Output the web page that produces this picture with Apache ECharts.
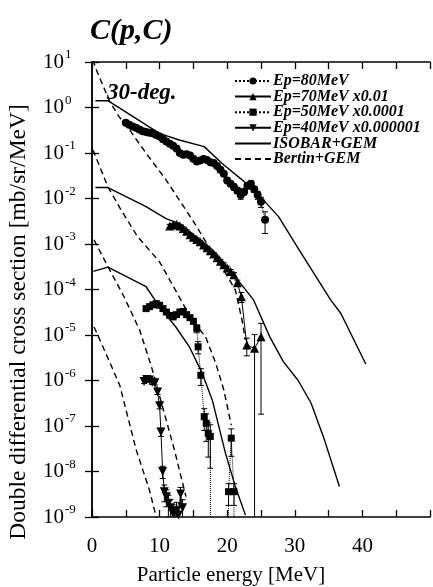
<!DOCTYPE html>
<html><head><meta charset="utf-8">
<script src="https://cdn.jsdelivr.net/npm/echarts@6/dist/echarts.min.js"></script>
<style>html,body{margin:0;padding:0;background:#fff}#c{width:433px;height:587px}</style>
</head><body><div id="c"></div>
<script>
// ---------- data ----------
const xTickLabels = [0, 10, 20, 30, 40];
const yExponents = [1, 0, -1, -2, -3, -4, -5, -6, -7, -8, -9];
const ZERO = 1e-15; // measured zero (drops below axis)

// Experimental: Ep=80MeV
const e80E = [5.0,5.5,6.0,6.5,7.0,7.5,8.0,8.5,9.0,9.5,10.0,10.5,11.0,11.5,12.0,12.5,13.0,13.5,14.0,14.5,15.0,15.5,16.0,16.5,17.0,17.5,18.0,18.5,19.0,19.5,20.0,20.5,21.0,21.5,22.0,22.5,23.0,23.5,24.0,24.5,25.0,25.6];
const e80V = [0.46,0.42,0.38,0.36,0.33,0.30,0.29,0.28,0.27,0.25,0.23,0.20,0.18,0.16,0.145,0.125,0.10,0.092,0.094,0.088,0.075,0.065,0.068,0.074,0.070,0.063,0.060,0.052,0.043,0.035,0.025,0.021,0.018,0.015,0.012,0.014,0.019,0.021,0.016,0.012,0.0085,0.0034];
const e80Err = [0.06,0.06,0.06,0.06,0.06,0.06,0.06,0.06,0.06,0.06,0.06,0.06,0.06,0.06,0.06,0.06,0.08,0.08,0.08,0.08,0.08,0.08,0.08,0.08,0.08,0.08,0.08,0.1,0.1,0.1,0.12,0.12,0.15,0.15,0.2,0.15,0.15,0.15,0.15,0.2,0.25,0.5];

// Experimental: Ep=70MeV x0.01
const e70E = [11.5,12.0,12.5,13.0,13.5,14.0,14.5,15.0,15.5,16.0,16.5,17.0,17.5,18.0,18.5,19.0,19.5,20.0,20.5,21.0,21.5,22.1,22.9,24.05,25.0];
const e70V = [2.5e-3,2.6e-3,2.7e-3,2.5e-3,2.2e-3,1.9e-3,1.6e-3,1.4e-3,1.26e-3,1.12e-3,9.5e-4,8.3e-4,7.1e-4,6.0e-4,5.0e-4,4.2e-4,3.5e-4,2.95e-4,2.5e-4,2.1e-4,1.4e-4,6.9e-5,6.0e-6,5.1e-6,9.1e-6];
const e70Err = [0.08,0.08,0.08,0.08,0.08,0.08,0.08,0.08,0.08,0.08,0.08,0.08,0.08,0.08,0.08,0.08,0.1,0.1,0.1,0.12,0.15,0.25,0.42,1.0,0.98];

// Experimental: Ep=50MeV x0.0001
const e50E = [8.0,8.5,9.0,9.5,10.0,10.5,11.0,11.5,12.0,12.5,13.0,13.5,14.0,14.5,15.0,15.5,15.7,16.1,16.6,16.9,17.2,17.5,17.6,20.1,20.2,20.6,21.0,21.1];
const e50V = [3.8e-5,4.2e-5,4.6e-5,4.9e-5,4.5e-5,3.8e-5,3.2e-5,2.7e-5,2.5e-5,2.8e-5,3.2e-5,3.3e-5,2.8e-5,2.4e-5,2.0e-5,1.4e-5,5.5e-6,1.3e-6,1.6e-7,1.15e-7,6.9e-8,5.9e-8,ZERO,ZERO,3.6e-9,5.4e-8,3.6e-9,ZERO];
const e50Err = [0.1,0.1,0.1,0.1,0.1,0.1,0.1,0.1,0.1,0.1,0.1,0.1,0.1,0.1,0.12,0.2,0.3,0.4,0.5,0.6,0.7,0.8,0,0,0.5,0.6,0.5,0];

// Experimental: Ep=40MeV x0.000001
const e40E = [7.7,8.1,8.5,8.9,9.3,9.7,10.0,10.2,10.45,10.7,11.0,11.3,11.6,11.9,12.2,12.5,12.8,13.1,13.4];
const e40V = [9.5e-7,1.05e-6,1.02e-6,9.1e-7,8.9e-7,5.6e-7,2.8e-7,7.4e-8,1.0e-8,3.6e-9,2.8e-9,2.0e-9,1.6e-9,1.26e-9,9.3e-10,1.4e-9,1.1e-9,3.2e-9,1.6e-9];
const e40Err = [0.1,0.1,0.1,0.1,0.1,0.12,0.15,0.2,0.3,0.4,0.4,0.5,0.5,0.5,0.5,0.5,0.5,0.4,0.5];

// ISOBAR+GEM
const iso80E = [0.5,2.35,9.97,12.9,16.6,19.25,22.2,24.9,27.6,30.5,35.3,36.8,40.5];
const iso80V = [1.41,1.41,0.271,0.193,0.138,0.059,0.0257,0.011,0.004,8.0e-4,5.9e-5,3.0e-5,2.3e-6];
const iso70E = [0.5,2.35,8.0,10.95,12.9,15.35,18.3,21.2,23.9,26.3,28.3,30.5,32.4,34.4,36.6];
const iso70V = [0.0174,0.0174,6.6e-3,3.6e-3,2.8e-3,1.45e-3,6.3e-4,1.9e-4,5.9e-5,9.1e-6,2.6e-6,1.0e-6,3.2e-7,4.9e-8,4.7e-9];
const iso50E = [0.2,2.35,8.0,9.97,12.4,14.4,16.3,17.8,19.75,21.2,22.7];
const iso50V = [2.5e-4,3.1e-4,1.15e-4,4.2e-5,1.5e-5,5.5e-6,1.45e-6,3.7e-7,2.5e-8,4.7e-9,1.1e-9];

// Bertin+GEM
const ber80E = [0.2,0.44,1.9,2.64,4.0,5.57,8.02,10.95,12.9,14.85,17.3,19.75,21.2,22.2,22.7];
const ber80V = [11.2,7.9,2.43,1.34,0.63,0.32,0.098,0.0257,0.0093,0.0034,8.7e-4,2.3e-4,9.8e-5,2.1e-5,7.8e-6];
const ber70E = [0.15,2.35,4.3,6.74,9.97,11.63,13.4,14.85,16.8,18.3,19.5,20.6];
const ber70V = [0.117,0.018,5.6e-3,1.45e-3,4.1e-4,1.5e-4,5.0e-5,2.1e-5,9.1e-6,2.4e-6,6.2e-7,1.05e-7];
const ber50E = [0.3,2.35,4.7,7.04,8.8,10.45,12.2,13.9];
const ber50V = [1.23e-3,3.2e-4,7.1e-5,1.3e-5,2.0e-6,2.6e-7,2.95e-8,2.8e-9];
const ber40E = [0.3,1.17,4.1,6.55,8.5,9.5,9.7];
const ber40V = [1.5e-5,7.8e-6,7.9e-7,2.95e-8,3.9e-9,1.0e-9,7.0e-10];

// ---------- chart ----------
const FONT = 'Liberation Serif';
const pair = (xs, vs) => xs.map((x, i) => [x, vs[i]]);

function dataLine(name, xs, vs, symbol, size, lineType, rotate) {
  return {
    type: 'line', name, data: pair(xs, vs), symbol, symbolSize: size, symbolRotate: rotate || 0,
    showSymbol: true, clip: true, z: 5,
    itemStyle: { color: '#000' },
    lineStyle: { color: '#000', width: 1, type: lineType },
    emphasis: { disabled: true }, animation: false
  };
}
function modelLine(name, xs, vs, type) {
  return {
    type: 'line', name, data: pair(xs, vs), symbol: 'none', showSymbol: false, clip: true, z: 3,
    itemStyle: { color: 'rgba(0,0,0,0)' },
    lineStyle: { color: '#000', width: 1.4, type: type === 'dashed' ? [6, 4] : 'solid' },
    emphasis: { disabled: true }, animation: false
  };
}
function errorBars(xs, vs, fs) {
  const data = [];
  for (let i = 0; i < xs.length; i++) {
    if (fs[i] > 0) data.push([xs[i], Math.max(vs[i] * (1 - fs[i]), ZERO), vs[i] * (1 + fs[i]), fs[i] >= 1 ? 0 : 1]);
  }
  return {
    type: 'custom', name: 'err', data, clip: true, silent: true, z: 4, animation: false,
    encode: { x: 0, y: [1, 2] },
    renderItem(params, api) {
      const x = api.value(0), lo = api.value(1), hi = api.value(2), capLo = api.value(3);
      const a = api.coord([x, hi]), b = api.coord([x, lo]);
      const w = 3, st = { stroke: '#000', lineWidth: 1 };
      const ch = [
        { type: 'line', shape: { x1: a[0], y1: a[1], x2: b[0], y2: b[1] }, style: st },
        { type: 'line', shape: { x1: a[0] - w, y1: a[1], x2: a[0] + w, y2: a[1] }, style: st }
      ];
      if (capLo) ch.push({ type: 'line', shape: { x1: b[0] - w, y1: b[1], x2: b[0] + w, y2: b[1] }, style: st });
      return { type: 'group', children: ch };
    }
  };
}

const chart = echarts.init(document.getElementById('c'), null, { renderer: 'canvas' });
const axisLine = { show: true, lineStyle: { color: '#000', width: 1.5 } };
const tick = { show: true, inside: true, length: 7, lineStyle: { color: '#000', width: 1.3 } };

chart.setOption({
  backgroundColor: '#fff',
  animation: false,
  grid: { left: 92, top: 62, width: 342, height: 455 },
  legend: {
    orient: 'vertical', left: 234, top: 73, padding: 0, itemWidth: 36, itemHeight: 9, itemGap: -0.4,
    data: ['Ep=80MeV', 'Ep=70MeV x0.01', 'Ep=50MeV x0.0001', 'Ep=40MeV x0.000001', 'ISOBAR+GEM', 'Bertin+GEM'],
    textStyle: { fontFamily: FONT, fontStyle: 'italic', fontWeight: 'bold', fontSize: 16, color: '#000', lineHeight: 14, padding: [0, 0, 0, -3] },
    selectedMode: false
  },
  xAxis: [
    { type: 'value', min: 0, max: 50, interval: 5, position: 'bottom',
      axisLine, axisTick: tick, splitLine: { show: false },
      axisLabel: { margin: 19, fontFamily: FONT, fontSize: 21, color: '#000',
        formatter: v => xTickLabels.indexOf(v) >= 0 ? String(v) : '' } },
    { type: 'value', min: 0, max: 50, interval: 5, position: 'top',
      axisLine, axisTick: tick, splitLine: { show: false }, axisLabel: { show: false } }
  ],
  yAxis: [
    { type: 'log', logBase: 10, min: 1e-9, max: 10, position: 'left',
      axisLine, axisTick: tick, splitLine: { show: false }, minorTick: { show: false },
      axisLabel: { margin: 49, align: 'left', fontFamily: FONT, color: '#000',
        formatter: v => { const e = Math.round(Math.log10(v)); return yExponents.indexOf(e) >= 0 ? '{a|10}{b|' + e + '}' : ''; },
        rich: { a: { fontFamily: FONT, fontSize: 21, color: '#000' }, b: { fontFamily: FONT, fontSize: 13, color: '#000', padding: [0, 0, 14, 1] } } } },
    { type: 'log', logBase: 10, min: 1e-9, max: 10, position: 'right',
      axisLine, axisTick: tick, splitLine: { show: false }, axisLabel: { show: false } }
  ],
  graphic: [
    { type: 'text', left: 90, top: 16, style: { text: 'C(p,C)', font: 'italic bold 30px "Liberation Serif"', fill: '#000' } },
    { type: 'text', left: 107, top: 82, style: { text: '30-deg.', font: 'italic bold 23px "Liberation Serif"', fill: '#000' } },
    { type: 'text', x: 231, y: 575, style: { text: 'Particle energy [MeV]', font: '21px "Liberation Serif"', fill: '#000', align: 'center', verticalAlign: 'middle' } },
    { type: 'text', x: 19, y: 322, rotation: Math.PI / 2, style: { text: 'Double differential cross section [mb/sr/MeV]', font: '23.5px "Liberation Serif"', fill: '#000', align: 'center', verticalAlign: 'middle' } }
  ],
  series: [
    dataLine('Ep=80MeV', e80E, e80V, 'circle', 8, 'dotted'),
    dataLine('Ep=70MeV x0.01', e70E, e70V, 'triangle', 9, 'solid'),
    dataLine('Ep=50MeV x0.0001', e50E, e50V, 'rect', 7, 'dotted'),
    dataLine('Ep=40MeV x0.000001', e40E, e40V, 'triangle', 9, 'solid', 180),
    modelLine('ISOBAR+GEM', iso80E, iso80V, 'solid'),
    modelLine('ISOBAR+GEM', iso70E, iso70V, 'solid'),
    modelLine('ISOBAR+GEM', iso50E, iso50V, 'solid'),
    modelLine('Bertin+GEM', ber80E, ber80V, 'dashed'),
    modelLine('Bertin+GEM', ber70E, ber70V, 'dashed'),
    modelLine('Bertin+GEM', ber50E, ber50V, 'dashed'),
    modelLine('Bertin+GEM', ber40E, ber40V, 'dashed'),
    errorBars(e80E, e80V, e80Err),
    errorBars(e70E, e70V, e70Err),
    errorBars(e50E, e50V, e50Err),
    errorBars(e40E, e40V, e40Err)
  ]
});
</script></body></html>
